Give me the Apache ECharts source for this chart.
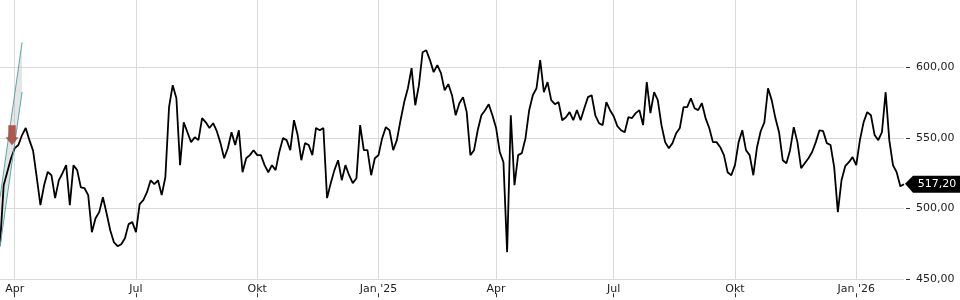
<!DOCTYPE html>
<html>
<head>
<meta charset="utf-8">
<script src="https://cdn.jsdelivr.net/npm/echarts@6/dist/echarts.min.js"></script>
<style>
html,body{margin:0;padding:0;background:#fff;}
#c{width:960px;height:300px;}
</style>
</head>
<body>
<div id="c"></div>
<script>
// ---- data ----
const START_DATE = '2024-03-20';          // first sample (every 2nd trading day)
const SAMPLE_COUNT = 247;
const monthNames = ['Jan','Feb','Mär','Apr','Mai','Jun','Jul','Aug','Sep','Okt','Nov','Dez'];
const labelMonths = [1, 4, 7, 10];
const yTickValues = [450, 500, 550, 600];
const yRange = { min: 450, max: 647.5 };

const prices = [
474,516.5,526,535.6,542.7,545,552,557,548.4,541,
522,502.4,516.5,526,523.6,507.4,520,525,530.7,502.4,
530.7,527.2,515,514.4,509.5,483.3,493.2,497.5,508,496.7,
484.7,476.2,473.4,474.8,479,489,490.4,483.3,503.1,506,
511.6,520,517.3,520,509.5,522.2,571.7,587.3,578,530.7,
561,554,547,550.5,548.4,564,561,557,560.4,554.7,
546.3,535.6,542.7,554,545,555.4,525.7,535.6,537.8,541.3,
537.8,537.8,530.7,525.7,530.7,527.2,540,549.8,548.4,541.3,
562.5,552,534.2,546.3,545,537.8,557,555.4,557,507.4,
518,527.2,534.2,520.1,530.7,523.6,518,521.5,559,541.3,
541.3,523.6,535.6,537.8,549.8,557.6,555.4,541.3,548.4,562.5,
575.3,585.1,599.3,573.1,587.3,610.6,612,605,596.5,601.4,
595.8,583.7,588,580.2,566,574.5,578.8,568.2,537.8,541.3,
555.4,566,569.6,573.8,566,557,540,532.8,469.2,566,
516.5,537.8,539.2,549.8,569.6,580.2,585.1,605,582.3,589.4,
576.7,573.8,575.3,562.5,564.6,568.2,562.5,569.6,562.5,571,
578.8,580.2,566,560.4,559,575.3,569.6,565.3,558.3,555.4,
554,564.6,564,567.5,569.6,559,589.4,567.5,582.3,576.7,
559,547,542.7,546.3,553.3,557,571.7,571.7,578,571,
569.6,574.5,564,557,547,547,543.4,537.8,525.7,523.6,
530.7,547,555.4,541.3,537.8,523.6,543.4,554.7,561,585.1,
576.7,564,554,534.2,532.1,541.3,557.6,547,528.6,532.1,
535.6,540,547,555.4,554.7,546.3,545,529.3,497.5,520.1,
530,532.8,536.4,530.7,548.4,561,568.2,566,552,548.4,
554,582.3,548.4,530.7,525.7,515.8,517.2
];
const lastPrice = 517.2;

// trend channel (sample index, value)
const channelIdx = [0, 6];
const channelUpper = [507.9, 617.5];
const channelLower = [472.9, 582.5];

// sell signal marker
const signalIdx = 3;
const signalValue = 551.9;

// ---- categories: every 2nd weekday ----
function sampleDates(start, count) {
  const out = [];
  const d = new Date(start + 'T00:00:00Z');
  let wd = 0;
  while (out.length < count) {
    const day = d.getUTCDay();
    if (day !== 0 && day !== 6) {
      if (wd % 2 === 0) out.push(d.toISOString().slice(0, 10));
      wd++;
    }
    d.setUTCDate(d.getUTCDate() + 1);
  }
  return out;
}
const categories = sampleDates(START_DATE, SAMPLE_COUNT);

function isQuarterStart(idx) {
  if (idx === 0) return false;
  const m = +categories[idx].slice(5, 7);
  if (labelMonths.indexOf(m) < 0) return false;
  return categories[idx - 1].slice(5, 7) !== categories[idx].slice(5, 7);
}
function fmtLabel(val) {
  const m = +val.slice(5, 7);
  return m === 1 ? "Jan '" + val.slice(2, 4) : monthNames[m - 1];
}
const fmtNum = v => (+v).toFixed(2).replace('.', ',');

const FONT = 'DejaVu Sans';
const GRID_C = '#dadada';
const chart = echarts.init(document.getElementById('c'), null, { renderer: 'canvas' });
chart.setOption({
  animation: false,
  backgroundColor: '#ffffff',
  grid: { left: 0, right: 56, top: 0, bottom: 20.7, containLabel: false },
  xAxis: [{
    type: 'category',
    data: categories,
    boundaryGap: false,
    axisLine: { show: false },
    axisTick: { show: false },
    axisLabel: {
      interval: (i) => isQuarterStart(i),
      formatter: fmtLabel,
      color: '#222', fontFamily: FONT, fontSize: 11, margin: 4
    },
    splitLine: { show: true, interval: (i) => isQuarterStart(i), lineStyle: { color: GRID_C, width: 1 } }
  }, {
    type: 'category',
    data: categories,
    boundaryGap: false,
    position: 'bottom',
    offset: 14,
    axisLine: { show: false },
    axisTick: { show: true, interval: (i) => isQuarterStart(i), length: 4, lineStyle: { color: '#333' } },
    axisLabel: { show: false },
    splitLine: { show: false }
  }],
  yAxis: {
    type: 'value',
    position: 'right',
    offset: 2,
    min: yRange.min, max: yRange.max, interval: 50,
    axisLine: { show: false },
    axisTick: { show: true, customValues: yTickValues, length: 4, lineStyle: { color: '#333' } },
    axisLabel: {
      customValues: yTickValues,
      formatter: fmtNum,
      color: '#222', fontFamily: FONT, fontSize: 11, margin: 10
    },
    splitLine: { show: true, lineStyle: { color: [GRID_C, GRID_C, GRID_C, GRID_C, 'rgba(0,0,0,0)'], width: 1 } }
  },
  series: [
    {
      type: 'custom',
      silent: true,
      data: [[0]],
      z: 1,
      renderItem: (params, api) => ({
        type: 'polygon',
        shape: { points: [
          api.coord([channelIdx[0], channelUpper[0]]),
          api.coord([channelIdx[1], channelUpper[1]]),
          api.coord([channelIdx[1], channelLower[1]]),
          api.coord([channelIdx[0], channelLower[0]])
        ] },
        style: { fill: 'rgba(190,190,190,0.4)' }
      })
    },
    {
      type: 'line', symbol: 'none', silent: true, z: 3,
      data: [[channelIdx[0], channelUpper[0]], [channelIdx[1], channelUpper[1]]],
      lineStyle: { color: '#5aa6ab', width: 1 }
    },
    {
      type: 'line', symbol: 'none', silent: true, z: 3,
      data: [[channelIdx[0], channelLower[0]], [channelIdx[1], channelLower[1]]],
      lineStyle: { color: '#5aa6ab', width: 1 }
    },
    {
      type: 'line',
      data: prices,
      symbol: 'none',
      z: 2,
      lineStyle: { color: '#000', width: 1.8 },
      markPoint: {
        silent: true,
        data: [
          {
            coord: [signalIdx, signalValue],
            symbol: 'path://M3,0 L11,0 L11,12 L14,12 L7,20 L0,12 L3,12 Z',
            symbolSize: [13, 20],
            symbolOffset: [1, 0],
            itemStyle: { color: '#a8483d', opacity: 0.9 },
            label: { show: false }
          },
          {
            coord: [SAMPLE_COUNT - 1, lastPrice],
            symbol: 'path://M0,8 L8,0 L58,0 L58,17 L8,17 Z',
            symbolSize: [58, 17],
            symbolOffset: [30, 0],
            itemStyle: { color: '#000' },
            label: {
              show: true, position: 'inside', offset: [3, 0],
              formatter: fmtNum(lastPrice),
              color: '#fff', fontFamily: FONT, fontSize: 11
            }
          }
        ]
      }
    }
  ]
});
</script>
</body>
</html>
